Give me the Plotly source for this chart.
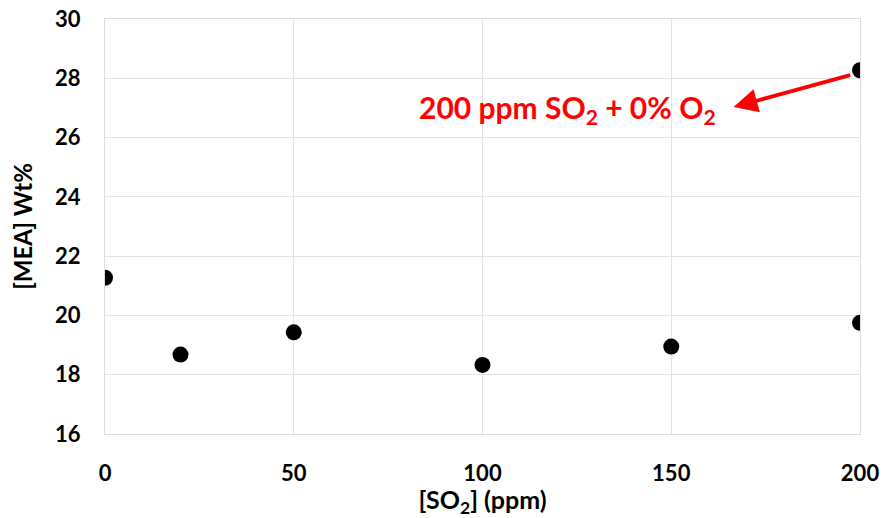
import plotly.graph_objects as go

so2_ppm = [0, 20, 50, 100, 150, 200, 200]
mea_wt = [21.27, 18.68, 19.43, 18.33, 18.95, 19.75, 28.27]

x_ticks = [0, 50, 100, 150, 200]
y_ticks = [16, 18, 20, 22, 24, 26, 28, 30]

font_family = "Lato, 'Open Sans', Arial, sans-serif"

fig = go.Figure()
fig.add_trace(go.Scatter(
    x=so2_ppm, y=mea_wt, mode="markers",
    marker=dict(color="black", size=16),
    showlegend=False,
))

fig.add_annotation(
    x=166.5, y=27.03, ax=197.8, ay=28.12, xref="x", yref="y", axref="x", ayref="y",
    text="", showarrow=True, arrowhead=2, arrowsize=1.2, arrowwidth=4, arrowcolor="#ff0000",
)
fig.add_annotation(
    x=122.6, y=26.95, xref="x", yref="y", showarrow=False,
    text="<b>200 ppm SO<sub>2</sub> + 0% O<sub>2</sub></b>",
    font=dict(family=font_family, size=30, color="#ff0000"),
)

fig.update_layout(
    width=885, height=518,
    margin=dict(l=105, r=25, t=19, b=84),
    paper_bgcolor="white", plot_bgcolor="white",
    font=dict(family=font_family, color="black"),
    xaxis=dict(
        range=[0, 200], tickvals=x_ticks, ticktext=[f"<b>{v}</b>" for v in x_ticks],
        showgrid=True, gridcolor="#e3e3e3", gridwidth=1, automargin=False,
        showline=True, linecolor="#dddddd", mirror=True, zeroline=False,
        tickfont=dict(size=22), ticks="outside", ticklen=20, tickcolor="white",
        title=dict(text="<b>[SO<sub>2</sub>] (ppm)</b>", font=dict(size=25)),
    ),
    yaxis=dict(
        range=[16, 30], tickvals=y_ticks, ticktext=[f"<b>{v}</b>" for v in y_ticks],
        showgrid=True, gridcolor="#e3e3e3", gridwidth=1, automargin=False,
        showline=True, linecolor="#dddddd", mirror=True, zeroline=False,
        tickfont=dict(size=22), ticks="outside", ticklen=19, tickcolor="white",
        title=dict(text="<b>[MEA] Wt%</b>", font=dict(size=24)),
    ),
)

fig.write_html("out.html")
